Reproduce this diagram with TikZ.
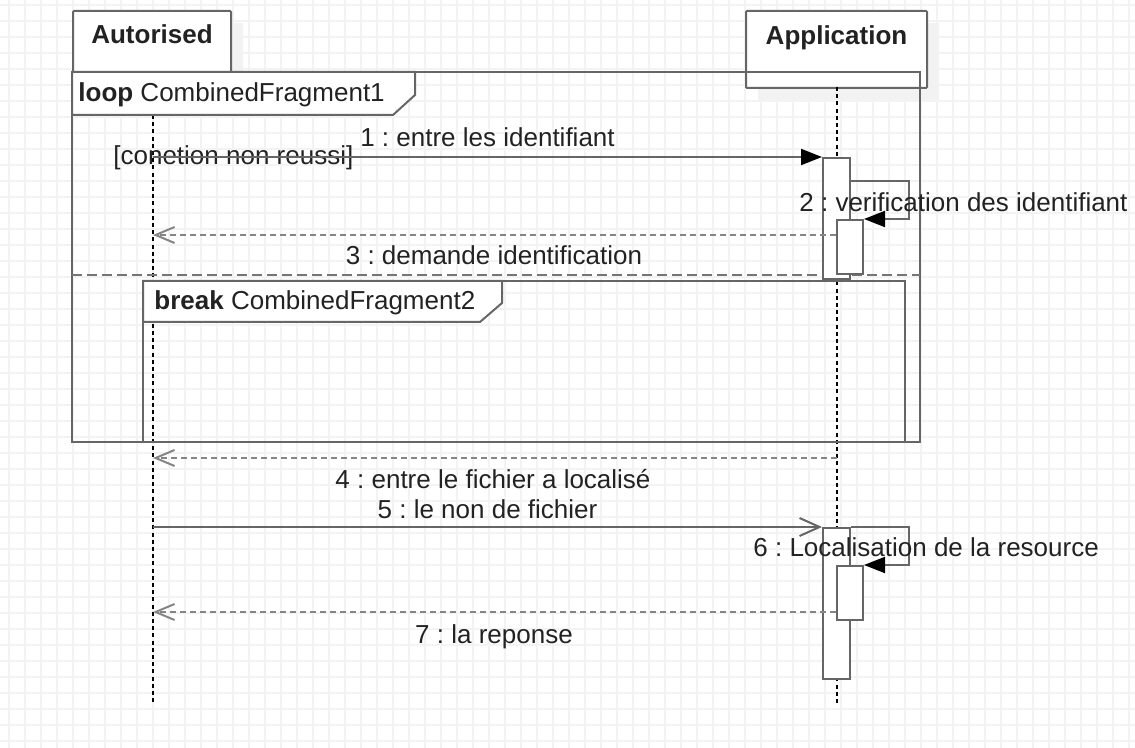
\documentclass[tikz,border=0pt]{standalone}
\usepackage{fontspec}
\setmainfont{Liberation Sans}
\usetikzlibrary{arrows.meta,shadows}
\definecolor{umlline}{HTML}{666666}
\definecolor{umlgrid}{HTML}{F3F3F3}
\definecolor{umltext}{HTML}{222222}
\frenchspacing

\begin{document}
\begin{tikzpicture}[x=0.5pt,y=-0.5pt,
    every node/.style={font=\fontsize{13pt}{15pt}\selectfont, text=umltext},
    txt/.style={anchor=base, inner sep=0pt},
    gridline/.style={umlgrid, line width=0.8pt},
    header/.style={draw=umlline, line width=1pt, fill=white, rounded corners=0.5pt,
        minimum width=#1, minimum height=38.5pt, inner sep=0pt, anchor=north west,
        general shadow={fill=black!5, shadow xshift=6pt, shadow yshift=-6pt}},
    frame/.style={draw=umlline, line width=1pt},
    tab/.style={frame, fill=white},
    act/.style={draw=umlline, line width=1pt, fill=white, minimum width=13.5pt,
        minimum height=#1, inner sep=0pt, anchor=north west},
    lifeline/.style={black, line width=0.6pt, dash pattern=on 2pt off 1.6pt},
    call/.style={umlline, line width=1pt, -{Triangle[length=10.5pt,width=8pt,color=black]}},
    callopen/.style={umlline, line width=1pt, -{Straight Barb[length=10pt,width=9pt]}},
    reply/.style={umlline!80, line width=1pt, dash pattern=on 3pt off 2pt,
        -{Straight Barb[length=9.5pt,width=8pt]}}
]
    \useasboundingbox (0,0) rectangle (1135,748);

    % Background grid
    \foreach \gx in {9,25,...,1135} \draw[gridline] (\gx,0) -- (\gx,748);
    \foreach \gy in {5,21,...,748} \draw[gridline] (0,\gy) -- (1135,\gy);

    % Lifeline headers
    \node[header=79pt] (aut) at (72,10) {};
    \node[txt] (autName) at ([yshift=-17pt]aut.north) {\textbf{Autorised}};
    \node[header=90.5pt] (app) at (745,10) {};
    \node[txt] (appName) at ([yshift=-17.5pt]app.north) {\textbf{Application}};

    % Lifelines
    \coordinate (autLife) at (153,115);
    \coordinate (appLife) at (837,87);
    \draw[lifeline] (autLife) -- (153,705);
    \draw[lifeline] (appLife) -- (837,705);

    % Loop fragment with its guard separator
    \draw[frame] (72,72) rectangle (920,442);
    \draw[tab] (72,72) -- (415,72) -- (415,95) -- (393,115) -- (72,115) -- cycle;
    \node[txt, anchor=base west] (loopName) at (78,102) {\textbf{loop} CombinedFragment1};
    \draw[frame, umlline!90, dash pattern=on 5pt off 2.5pt] (72,275) -- (920,275);

    % Break fragment
    \draw[frame] (143,281) rectangle (905,442);
    \draw[tab] (143,281) -- (502,281) -- (502,303) -- (480,322) -- (143,322) -- cycle;
    \node[txt, anchor=base west] (breakName) at (154,310) {\textbf{break} CombinedFragment2};

    % Activations on Application
    \node[act=60.5pt] (act1) at (822,157) {};
    \node[act=27pt, minimum width=13pt] (act2) at (836,219) {};
    \node[act=75.5pt] (act3) at (822,527) {};
    \node[act=27pt, minimum width=13pt] (act4) at (836,565) {};

    % 1 : call with guard
    \node[txt, anchor=base west] (guard) at (113,165) {[conetion non reussi]};
    \draw[call] (autLife |- act1.north) -- (act1.north west);
    \node[txt] (l1) at (487.5,147) {1 : entre les identifiant};

    % 2 : self call
    \draw[call] (act1.north east |- 0,181) -- (909,181) |- (act2.north east);
    \node[txt, anchor=base west] (l2) at (799,212) {2 : verification des identifiant};

    % 3 : reply
    \draw[reply] (act2.west |- 0,235) -- (autLife |- 0,235);
    \node[txt] (l3) at (494,265) {3 : demande identification};

    % 4 : reply
    \draw[reply] (appLife |- 0,458) -- (autLife |- 0,458);
    \node[txt] (l4) at (493,488) {4 : entre le fichier a localisé};

    % 5 : call
    \draw[callopen] (autLife |- act3.north) -- (act3.north west);
    \node[txt] (l5) at (487.5,518) {5 : le non de fichier};

    % 6 : self call
    \draw[call] (act3.north east) -- (909,527) |- (act4.north east);
    \node[txt, anchor=base west] (l6) at (753,556) {6 : Localisation de la resource};

    % 7 : reply
    \draw[reply] (act4.west |- 0,612) -- (autLife |- 0,612);
    \node[txt] (l7) at (494,643) {7 : la reponse};
\end{tikzpicture}
\end{document}
